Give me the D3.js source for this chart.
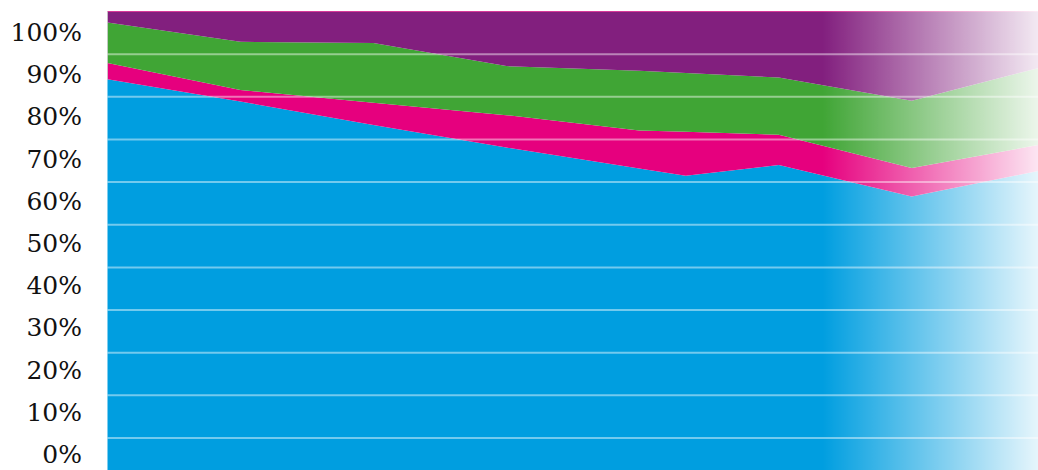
<!DOCTYPE html>
<html>
<head>
<meta charset="utf-8">
<script src="https://cdn.jsdelivr.net/npm/d3@7"></script>
<style>
  html, body { margin: 0; padding: 0; background: #ffffff; }
  svg { display: block; }
</style>
</head>
<body>
<svg id="chart" width="1038" height="470"></svg>
<script>
// ---- data ----
const years = [2000, 2005, 2010, 2015, 2020, 2021.75, 2025.25, 2030.25, 2035];
const seriesNames = ["blue", "pink", "green", "purple"];
const blueValues   = [84.1, 78.9, 73.4, 68.1, 63.2, 61.5, 64.0, 56.6, 62.6];
const pinkValues   = [3.8, 2.7, 5.2, 7.6, 8.9, 10.3, 7.1, 6.7, 6.1];
const greenValues  = [9.5, 11.3, 14.0, 11.5, 14.0, 13.8, 13.4, 15.8, 18.0];
const purpleValues = [2.6, 7.1, 7.4, 12.8, 13.9, 14.4, 15.5, 20.9, 13.3];
const gridTicks = [0, 10, 20, 30, 40, 50, 60, 70, 80, 90];
const labelTicks = [0, 10, 20, 30, 40, 50, 60, 70, 80, 90, 100];
const tickLabels = ["0%", "10%", "20%", "30%", "40%", "50%", "60%", "70%", "80%", "90%", "100%"];

// ---- styles ----
const colors = { blue: "#009ee0", pink: "#e6007e", green: "#40a535", purple: "#821f7e" };
const W = 1038, H = 470;

const table = years.map((yr, i) => ({
  year: yr,
  blue: blueValues[i], pink: pinkValues[i], green: greenValues[i], purple: purpleValues[i]
}));

const svg = d3.select("#chart");
const x = d3.scaleLinear().domain([2000, 2035]).range([107.5, W]);
const y = d3.scaleLinear().domain([-7.5, 100]).range([H, 11.5]);
const yLabel = d3.scaleLinear().domain([0, 100]).range([454, 32]);

const stack = d3.stack().keys(seriesNames);
const layers = stack(table);

const area = d3.area()
  .x(d => x(d.data.year))
  .y0(d => d[0] === 0 ? y(y.domain()[0]) : y(d[0]))
  .y1(d => y(d[1]));

// fade mask for the projection part
const defs = svg.append("defs");
const grad = defs.append("linearGradient")
  .attr("id", "fade").attr("gradientUnits", "userSpaceOnUse")
  .attr("x1", x(2026.9)).attr("x2", x(2035)).attr("y1", 0).attr("y2", 0);
grad.append("stop").attr("offset", 0).attr("stop-color", "#fff").attr("stop-opacity", 1);
grad.append("stop").attr("offset", 1).attr("stop-color", "#fff").attr("stop-opacity", 0.1);
defs.append("mask").attr("id", "fadeMask")
  .attr("maskUnits", "userSpaceOnUse").attr("x", 0).attr("y", 0).attr("width", W).attr("height", H)
  .append("rect").attr("x", 0).attr("y", 0).attr("width", W).attr("height", H)
  .attr("fill", "url(#fade)");

const g = svg.append("g").attr("mask", "url(#fadeMask)");
g.selectAll("path.layer").data(layers).join("path")
  .attr("class", "layer")
  .attr("d", area)
  .attr("fill", d => colors[d.key]);

g.append("line")
  .attr("x1", x(2000)).attr("x2", x(2035))
  .attr("y1", y(100)).attr("y2", y(100))
  .attr("stroke", colors.pink).attr("stroke-opacity", 0.6).attr("stroke-width", 1);

// faint left edge line above the blue layer
svg.append("line")
  .attr("x1", x(2000)).attr("x2", x(2000))
  .attr("y1", y(100)).attr("y2", y(blueValues[0]))
  .attr("stroke", "#c8c8c8").attr("stroke-opacity", 0.8).attr("stroke-width", 1);

// gridlines
svg.append("g").selectAll("line").data(gridTicks).join("line")
  .attr("x1", x(2000)).attr("x2", x(2035))
  .attr("y1", d => y(d)).attr("y2", d => y(d))
  .attr("stroke", "#ffffff").attr("stroke-opacity", 0.45).attr("stroke-width", 2);

// y labels
svg.append("g").selectAll("text").data(labelTicks).join("text")
  .attr("x", 82)
  .attr("y", d => yLabel(d))
  .attr("dy", "0.36em")
  .attr("text-anchor", "end")
  .attr("font-family", "'DejaVu Serif', serif")
  .attr("font-size", 25)
  .attr("fill", "#111")
  .text((d, i) => tickLabels[i]);
</script>
</body>
</html>
